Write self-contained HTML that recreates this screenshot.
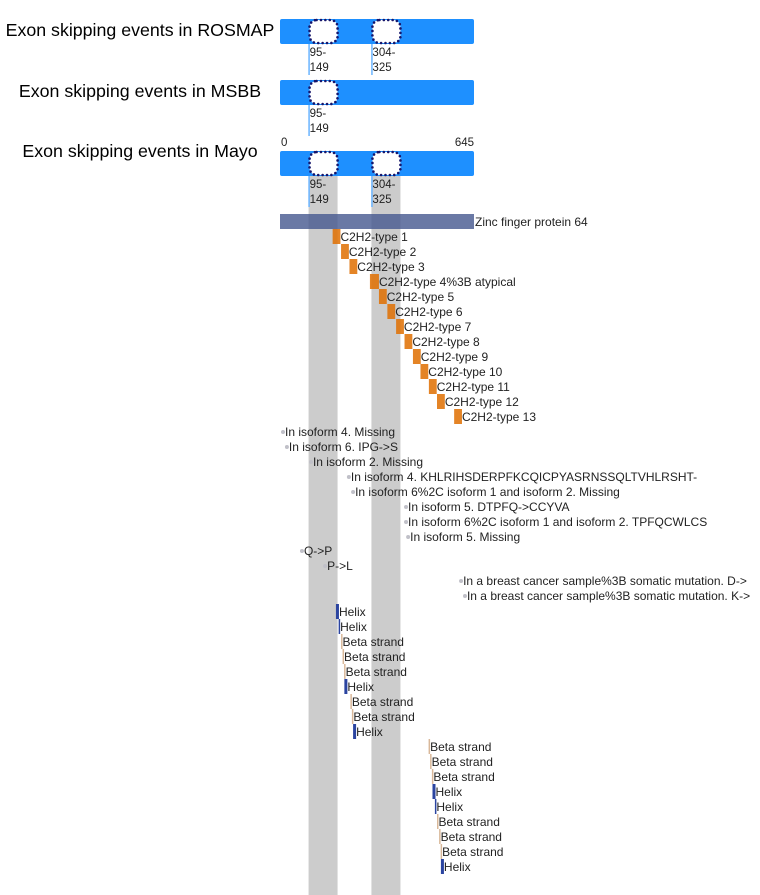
<!DOCTYPE html>
<html><head><meta charset="utf-8">
<style>
html,body{margin:0;padding:0;background:#fff;}
svg{display:block;font-family:"Liberation Sans",Arial,sans-serif;}
</style></head>
<body>
<svg id="chart" width="760" height="895" viewBox="0 0 760 895" xmlns="http://www.w3.org/2000/svg"></svg>
<script>
const proteinLength = 645;
const cohorts = ["ROSMAP", "MSBB", "Mayo"];
const cohortExons = [["95-149","304-325"], ["95-149"], ["95-149","304-325"]];
const exonStarts = {"95-149":95, "304-325":304};
const domainNames = ["C2H2-type 1","C2H2-type 2","C2H2-type 3","C2H2-type 4%3B atypical","C2H2-type 5","C2H2-type 6","C2H2-type 7","C2H2-type 8","C2H2-type 9","C2H2-type 10","C2H2-type 11","C2H2-type 12","C2H2-type 13"];
const domainStarts = [175,203,231,299,329,357,386,414,442,467,495,522,579];
const domainLengths = [26,26,26,30,26,26,26,26,26,26,26,26,26];
const variantLabels = ["In isoform 4. Missing","In isoform 6. IPG->S","In isoform 2. Missing","In isoform 4. KHLRIHSDERPFKCQICPYASRNSSQLTVHLRSHT-","In isoform 6%2C isoform 1 and isoform 2. Missing","In isoform 5. DTPFQ->CCYVA","In isoform 6%2C isoform 1 and isoform 2. TPFQCWLCS","In isoform 5. Missing","Q->P","P->L","In a breast cancer sample%3B somatic mutation. D->","In a breast cancer sample%3B somatic mutation. K->"];
const variantPositions = [10,23,103,229,243,419,419,426,73,150,602,615];
const structTypes = ["Helix","Helix","Beta strand","Beta strand","Beta strand","Helix","Beta strand","Beta strand","Helix","Beta strand","Beta strand","Beta strand","Helix","Helix","Beta strand","Beta strand","Beta strand","Helix"];
const structStarts = [186,195,203,208,213,214,234,239,243,494,499,505,507,515,522,529,534,535];
const structLengths = [10,5,4,4,4,10,4,4,10,4,4,4,10,4,4,4,4,10];

const NS="http://www.w3.org/2000/svg";
const svg=document.getElementById('chart');
const X0=280, X1=474;
function xs(aa){return X0+aa*(X1-X0)/proteinLength;}
function mk(tag,attrs,parent){const e=document.createElementNS(NS,tag);for(const k in attrs)e.setAttribute(k,attrs[k]);(parent||svg).appendChild(e);return e;}
function txt(x,y,s,size,anchor,parent){const t=mk('text',{x:x,y:y,'font-size':size,fill:'#222','text-anchor':anchor||'start'},parent);t.textContent=s;return t;}
const LS=12;

cohortExons[2].forEach(ex=>{
  const b=mk('rect',{x:xs(exonStarts[ex]),y:165,width:29,height:730,fill:'#cccccc'});
  
  
});

const barY=[19,80,151];
const titleY=[36,97,157];
cohorts.forEach((c,i)=>{
  const t=txt(140,titleY[i],'Exon skipping events in '+c,17.8,'middle');
  t.setAttribute('fill','#000');
  
  
  const bar=mk('rect',{x:X0,y:barY[i],width:X1-X0,height:25,rx:2,fill:'#1e90ff'});
  
  
  cohortExons[i].forEach(ex=>{
    const x=xs(exonStarts[ex]);
    const l=mk('line',{x1:x+0.5,y1:barY[i]+25,x2:x+0.5,y2:barY[i]+56,stroke:'#6ab4ff','stroke-width':1.5});
    
    
    const box=mk('rect',{x:x+1,y:barY[i]+1,width:28,height:23,rx:7,fill:'#fff',stroke:'#15156b','stroke-width':2.6,'stroke-dasharray':'0 4.4','stroke-linecap':'round'});
    
    
    const parts=ex.split('-');
    const a=txt(x+1,barY[i]+37,parts[0]+'-',11.5);
    const b=txt(x+1,barY[i]+52,parts[1],11.5);
  });
});
const a0=txt(X0+1,146,'0',11.5);
const a1=txt(X1,146,String(proteinLength),11.5,'end');

const ch=mk('rect',{x:X0,y:214,width:X1-X0,height:15,fill:'#45588f','fill-opacity':0.8});


const cht=txt(X1+1,226,'Zinc finger protein 64',LS);

domainNames.forEach((n,i)=>{
  const x=xs(domainStarts[i]),w=domainLengths[i]*(X1-X0)/proteinLength,y=229+i*15;
  const r=mk('rect',{x:x,y:y,width:w,height:15,fill:'#df6f00','fill-opacity':0.85});
  
  
  const t=txt(x+w,y+12,n,LS);
});

variantLabels.forEach((n,i)=>{
  const x=xs(variantPositions[i]);
  const yy=i<8?432+i*15:(i<10?551+(i-8)*15:581+(i-10)*15);
  const c=mk('circle',{cx:x,cy:yy,r:2,fill:'#c0c0c8'});
  
  
  const t=txt(x+2,yy+4,n,LS);
});

structTypes.forEach((n,i)=>{
  const x=xs(structStarts[i]),w=Math.max(1.5,structLengths[i]*(X1-X0)/proteinLength);
  const y=(i<9?604+i*15:739+(i-9)*15);
  const r=mk('rect',{x:x,y:y,width:w,height:15,fill:n==='Helix'?'#2b44a0':'#d9b89a'});
  
  
  const t=txt(x+w,y+12,n,LS);
});
</script>
</body></html>
